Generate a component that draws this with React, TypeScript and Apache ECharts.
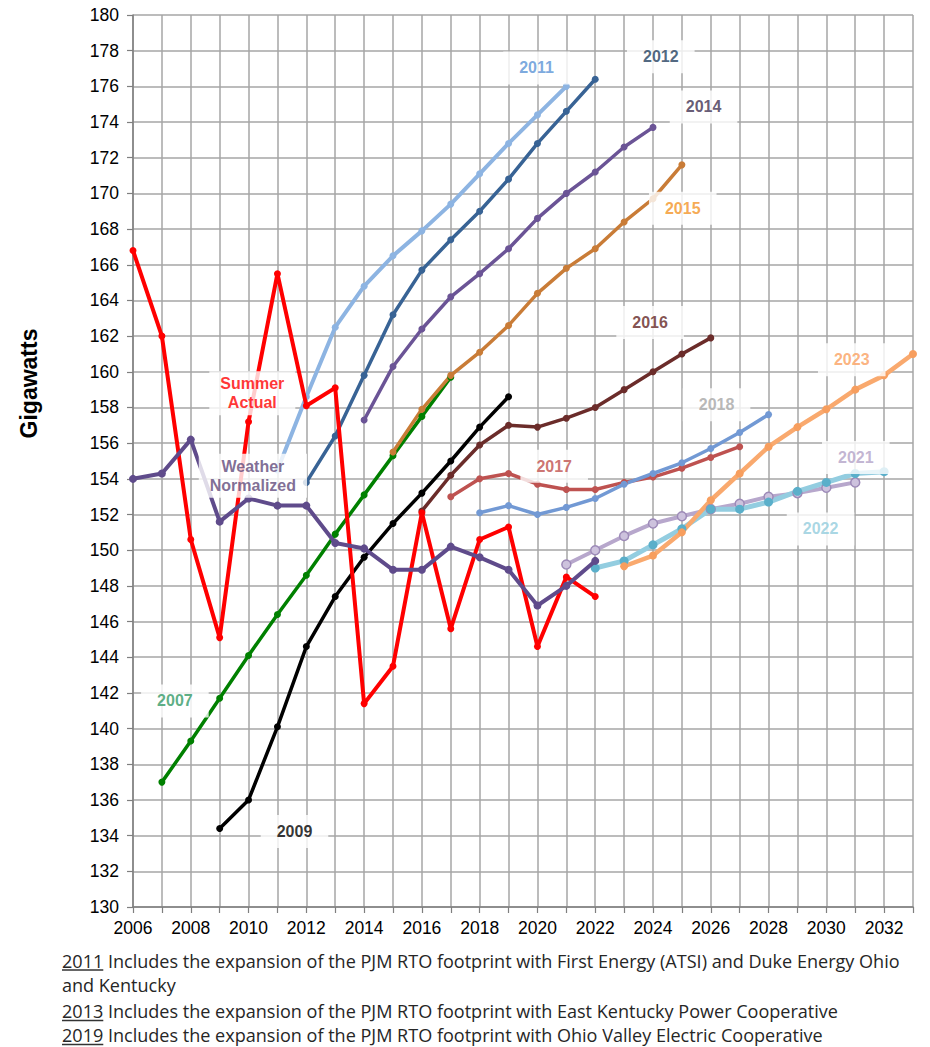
import React, { useEffect, useRef } from "react";
import * as echarts from "echarts";

// ---- data ----
const summerActualStart = 2006;
const summerActual = [166.8, 162.0, 150.6, 145.1, 157.2, 165.5, 158.1, 159.1, 141.4, 143.5, 152.1, 145.6, 150.6, 151.3, 144.6, 148.5, 147.4];
const weatherNormalizedStart = 2006;
const weatherNormalized = [154.0, 154.3, 156.2, 151.6, 152.9, 152.5, 152.5, 150.4, 150.1, 148.9, 148.9, 150.2, 149.6, 148.9, 146.9, 148.0, 149.4];

const f2007 = [137.0, 139.3, 141.7, 144.1, 146.4, 148.6, 150.9, 153.1, 155.3, 157.5, 159.7];
const f2009 = [134.4, 136.0, 140.1, 144.6, 147.4, 149.6, 151.5, 153.2, 155.0, 156.9, 158.6];
const f2011 = [154.5, 158.6, 162.5, 164.8, 166.5, 167.9, 169.4, 171.1, 172.8, 174.4, 176.0];
const f2012 = [153.8, 156.4, 159.8, 163.2, 165.7, 167.4, 169.0, 170.8, 172.8, 174.6, 176.4];
const f2014 = [157.3, 160.3, 162.4, 164.2, 165.5, 166.9, 168.6, 170.0, 171.2, 172.6, 173.7];
const f2015 = [155.5, 157.9, 159.8, 161.1, 162.6, 164.4, 165.8, 166.9, 168.4, 169.7, 171.6];
const f2016 = [152.2, 154.2, 155.9, 157.0, 156.9, 157.4, 158.0, 159.0, 160.0, 161.0, 161.9];
const f2017 = [153.0, 154.0, 154.3, 153.7, 153.4, 153.4, 153.8, 154.1, 154.6, 155.2, 155.8];
const f2018 = [152.1, 152.5, 152.0, 152.4, 152.9, 153.7, 154.3, 154.9, 155.7, 156.6, 157.6];
const f2021 = [149.2, 150.0, 150.8, 151.5, 151.9, 152.3, 152.6, 153.0, 153.2, 153.5, 153.8];
const f2022 = [149.0, 149.4, 150.3, 151.2, 152.3, 152.3, 152.7, 153.3, 153.8, 154.3, 154.4];
const f2023 = [149.1, 149.7, 151.0, 152.8, 154.3, 155.8, 156.9, 157.9, 159.0, 159.8, 161.0];

const footnotes = [
  { year: "2011", text: " Includes the expansion of the PJM RTO footprint with First Energy (ATSI) and Duke Energy Ohio" },
  { year: "", text: "and Kentucky" },
  { year: "2013", text: " Includes the expansion of the PJM RTO footprint with East Kentucky Power Cooperative" },
  { year: "2019", text: " Includes the expansion of the PJM RTO footprint with Ohio Valley Electric Cooperative" },
];

// label annotations
const labelTexts = [
  { x: 2019.97, y: 177.03, text: "2011", color: "#5B93D6" },
  { x: 2024.27, y: 177.66, text: "2012", color: "#243F60" },
  { x: 2025.75, y: 174.85, text: "2014", color: "#3F3151" },
  { x: 2025.03, y: 169.17, text: "2015", color: "#F39426" },
  { x: 2023.9, y: 162.76, text: "2016", color: "#632523" },
  { x: 2020.58, y: 154.7, text: "2017", color: "#C0504D" },
  { x: 2026.2, y: 158.15, text: "2018", color: "#A6A6A6" },
  { x: 2031.02, y: 155.2, text: "2021", color: "#B3A2C7" },
  { x: 2029.8, y: 151.19, text: "2022", color: "#93CDDD" },
  { x: 2030.88, y: 160.67, text: "2023", color: "#FAA060" },
  { x: 2007.45, y: 141.55, text: "2007", color: "#339966" },
  { x: 2011.59, y: 134.23, text: "2009", color: "#000000" },
  { x: 2010.13, y: 158.8, text: "Summer\nActual", color: "#FF0000" },
  { x: 2010.15, y: 154.17, text: "Weather\nNormalized", color: "#5F497A" },
];

const toPts = (start: number, vals: number[]) => vals.map((v, i) => [start + i, v]);

export default function App() {
  const ref = useRef<HTMLDivElement>(null);
  useEffect(() => {
    if (!ref.current) return;
    const chart = echarts.init(ref.current, undefined, { renderer: "svg" });
    const FONT = '"Liberation Sans", Arial, sans-serif';

    const mk = (name: string, start: number, vals: number[], color: string, opts: any = {}) => ({
      name,
      type: "line",
      data: toPts(start, vals),
      symbol: "circle",
      symbolSize: opts.symbolSize ?? 7,
      showSymbol: true,
      lineStyle: { color, width: opts.width ?? 3.5 },
      itemStyle: { color: opts.markerColor ?? color, ...(opts.itemStyle || {}) },
      z: opts.z ?? 3,
      silent: true,
      emphasis: { disabled: true },
    });

    // footnote sizing
    const canvas = document.createElement("canvas");
    const ctx = canvas.getContext("2d")!;
    const fnFont = '18px "Open Sans"';
    ctx.font = fnFont;
    const line1W = ctx.measureText(footnotes[0].year + footnotes[0].text).width;
    const sx = 838 / line1W;
    const lineYs = [961, 985.5, 1011.5, 1035.5];
    const fnChildren: any[] = [];
    footnotes.forEach((f, i) => {
      fnChildren.push({
        type: "text",
        x: 0,
        y: lineYs[i],
        style: { text: f.year + f.text, font: fnFont, fill: "#262626", align: "left", verticalAlign: "middle" },
      });
      if (f.year) {
        const w = ctx.measureText(f.year).width;
        fnChildren.push({
          type: "line",
          shape: { x1: 0, y1: lineYs[i] + 9, x2: w, y2: lineYs[i] + 9 },
          style: { stroke: "#333", lineWidth: 1.3 },
        });
      }
    });

    const option: any = {
      animation: false,
      backgroundColor: "#fff",
      grid: { left: 133, right: 17, top: 15, bottom: 140, containLabel: false },
      xAxis: {
        type: "value",
        min: 2006,
        max: 2033,
        interval: 1,
        axisLine: { show: true, lineStyle: { color: "#7F7F7F", width: 1.5 } },
        axisTick: { show: true, length: 6, lineStyle: { color: "#7F7F7F", width: 1.2 } },
        axisLabel: {
          formatter: (v: number) => (v % 2 === 0 ? String(v) : ""),
          fontSize: 17.5,
          color: "#000",
          fontFamily: FONT,
          margin: 12,
          showMaxLabel: true,
        },
        splitLine: { show: true, lineStyle: { color: "#A6A6A6", width: 1.5 } },
      },
      yAxis: {
        type: "value",
        min: 130,
        max: 180,
        interval: 2,
        axisLine: { show: true, lineStyle: { color: "#7F7F7F", width: 1.5 } },
        axisTick: { show: true, length: 6, lineStyle: { color: "#7F7F7F", width: 1.2 } },
        axisLabel: { fontSize: 17.5, color: "#000", fontFamily: FONT, margin: 14 },
        splitLine: { show: true, lineStyle: { color: "#A6A6A6", width: 1.5 } },
      },
      series: [
        mk("2007", 2007, f2007, "#008000"),
        mk("2009", 2009, f2009, "#000000"),
        mk("2011", 2011, f2011, "#8DB4E2", { width: 4 }),
        mk("2012", 2012, f2012, "#386395"),
        mk("2014", 2014, f2014, "#6B5496"),
        mk("2015", 2015, f2015, "#C97C37"),
        mk("2016", 2016, f2016, "#6B2C2A"),
        mk("2017", 2017, f2017, "#BE5250"),
        mk("2018", 2018, f2018, "#7299D4"),
        mk("2021", 2021, f2021, "#B7A7CC", {
          width: 4,
          symbolSize: 9,
          markerColor: "#CDC2DD",
          itemStyle: { borderColor: "#9D8AB8", borderWidth: 1.5 },
        }),
        mk("2022", 2022, f2022, "#93CDE0", { width: 5, symbolSize: 9, markerColor: "#5AAFCA" }),
        mk("2023", 2023, f2023, "#F9A96E", { width: 4.5, symbolSize: 8, markerColor: "#F79E5E" }),
        mk("Summer Actual", summerActualStart, summerActual, "#FF0000", { width: 4, z: 4 }),
        mk("Weather Normalized", weatherNormalizedStart, weatherNormalized, "#5F4B8B", { width: 4, symbolSize: 8, z: 5 }),
        {
          name: "labels",
          type: "scatter",
          symbolSize: 0,
          silent: true,
          z: 20,
          data: labelTexts.map((l) => {
            const multi = l.text.includes("\n");
            return {
              value: [l.x, l.y],
              label: {
                show: true,
                position: "inside",
                formatter: l.text,
                color: l.color,
                fontWeight: "bold",
                fontSize: 16,
                fontFamily: FONT,
                lineHeight: multi ? 19 : 17,
                align: "center",
                verticalAlign: "middle",
                backgroundColor: "#FFFFFF",
                padding: multi ? [3, 11, 3, 11] : [8, 16, 8, 16],
              },
            };
          }),
        },
      ],
      graphic: [
        {
          type: "text",
          x: 29,
          y: 383.5,
          rotation: Math.PI / 2,
          style: {
            text: "Gigawatts",
            font: 'bold 23px "Liberation Sans", Arial, sans-serif',
            fill: "#000",
            align: "center",
            verticalAlign: "middle",
          },
        },
        {
          type: "group",
          x: 62,
          y: 0,
          scaleX: sx,
          children: fnChildren,
        },
      ],
    };
    chart.setOption(option);
    return () => chart.dispose();
  }, []);

  return (
    <div
      ref={ref}
      style={{ position: "absolute", left: 0, top: 0, width: 930, height: 1047, background: "#fff" }}
    />
  );
}
